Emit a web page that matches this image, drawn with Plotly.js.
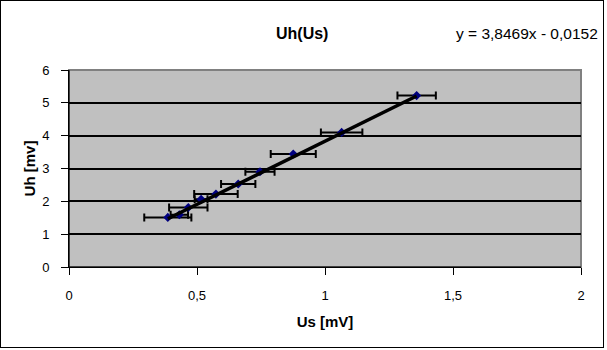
<!DOCTYPE html>
<html>
<head>
<meta charset="utf-8">
<script src="https://cdn.plot.ly/plotly-3.0.1.min.js"></script>
<style>
html,body{margin:0;padding:0;background:#fff;}
#chart{width:607px;height:350px;}
</style>
</head>
<body>
<div id="chart"></div>
<script>
var usValues = [0.386, 0.431, 0.466, 0.516, 0.574, 0.661, 0.746, 0.876, 1.065, 1.358];
var uhValues = [1.51, 1.59, 1.81, 2.06, 2.22, 2.53, 2.90, 3.44, 4.10, 5.22];
var usErrors = [0.092, 0.034, 0.075, 0.025, 0.085, 0.067, 0.057, 0.088, 0.081, 0.075];
var trendSlope = 3.8469;
var trendIntercept = -0.0152;
var titleText = 'Uh(Us)';
var equationText = 'y = 3,8469x - 0,0152';
var xTitle = 'Us [mV]';
var yTitle = 'Uh [mv]';

var xMin = Math.min.apply(null, usValues);
var xMax = Math.max.apply(null, usValues);
var trendX = [xMin, xMax];
var trendY = trendX.map(function(x){ return trendSlope * x + trendIntercept; });

var font = 'Liberation Sans, Arial, sans-serif';

var traces = [
  {
    x: usValues, y: uhValues, type: 'scatter', mode: 'markers',
    marker: {symbol: 'diamond', size: 7, color: '#000080'},
    error_x: {type: 'data', array: usErrors, visible: true, color: '#000000', thickness: 2, width: 4},
    hoverinfo: 'skip', showlegend: false
  },
  {
    x: trendX, y: trendY, type: 'scatter', mode: 'lines',
    line: {color: '#000000', width: 3.5},
    hoverinfo: 'skip', showlegend: false
  }
];

var layout = {
  width: 607, height: 350,
  margin: {l: 69, r: 26, t: 70, b: 83},
  paper_bgcolor: '#ffffff',
  plot_bgcolor: '#c0c0c0',
  separators: ', ',
  font: {family: font, size: 13, color: '#000000'},
  xaxis: {
    range: [0, 2], dtick: 0.5, tick0: 0,
    showgrid: false, zeroline: false,
    showline: true, linecolor: '#000000', linewidth: 1,
    ticks: 'outside', ticklen: 7, tickwidth: 1, tickcolor: '#000000',
    ticklabelstandoff: 9,
    tickfont: {size: 13, family: font},
    title: {text: '<b>' + xTitle + '</b>', font: {size: 15, family: font}, standoff: 14}
  },
  yaxis: {
    range: [0, 6], dtick: 1, tick0: 0,
    showgrid: true, gridcolor: '#000000', gridwidth: 2,
    zeroline: false,
    showline: true, linecolor: '#000000', linewidth: 1,
    ticks: 'outside', ticklen: 7, tickwidth: 1, tickcolor: '#000000',
    ticklabelstandoff: 9,
    tickfont: {size: 13, family: font},
    title: {text: '<b>' + yTitle + '</b>', font: {size: 15, family: font}, standoff: 2}
  },
  shapes: [
    {type: 'rect', xref: 'paper', yref: 'paper', x0: 0, x1: 1, y0: 0, y1: 1,
     line: {color: '#808080', width: 2}, layer: 'below'},
    {type: 'line', xref: 'paper', yref: 'paper', x0: 0, x1: 0, y0: 0, y1: 1,
     line: {color: '#000000', width: 1}},
    {type: 'line', xref: 'paper', yref: 'paper', x0: 0, x1: 1, y0: 0, y1: 0,
     line: {color: '#000000', width: 1}}
  ],
  annotations: [
    {text: '<b>' + titleText + '</b>', xref: 'paper', yref: 'paper', x: 0.455, y: 1, yshift: 37,
     xanchor: 'center', yanchor: 'middle', showarrow: false, font: {size: 16, family: font}},
    {text: equationText, xref: 'paper', yref: 'paper', x: 1, xshift: 19, y: 1, yshift: 37,
     xanchor: 'right', yanchor: 'middle', showarrow: false, font: {size: 15.5, family: font}}
  ]
};

Plotly.newPlot('chart', traces, layout, {displayModeBar: false, staticPlot: true}).then(function(){
  var svg = document.querySelector('#chart .main-svg');
  var ns = 'http://www.w3.org/2000/svg';
  var r = document.createElementNS(ns, 'rect');
  r.setAttribute('x', 0.5); r.setAttribute('y', 0.5);
  r.setAttribute('width', 603); r.setAttribute('height', 347);
  r.setAttribute('fill', 'none'); r.setAttribute('stroke', '#000'); r.setAttribute('stroke-width', 1);
  svg.appendChild(r);
});
</script>
</body>
</html>
